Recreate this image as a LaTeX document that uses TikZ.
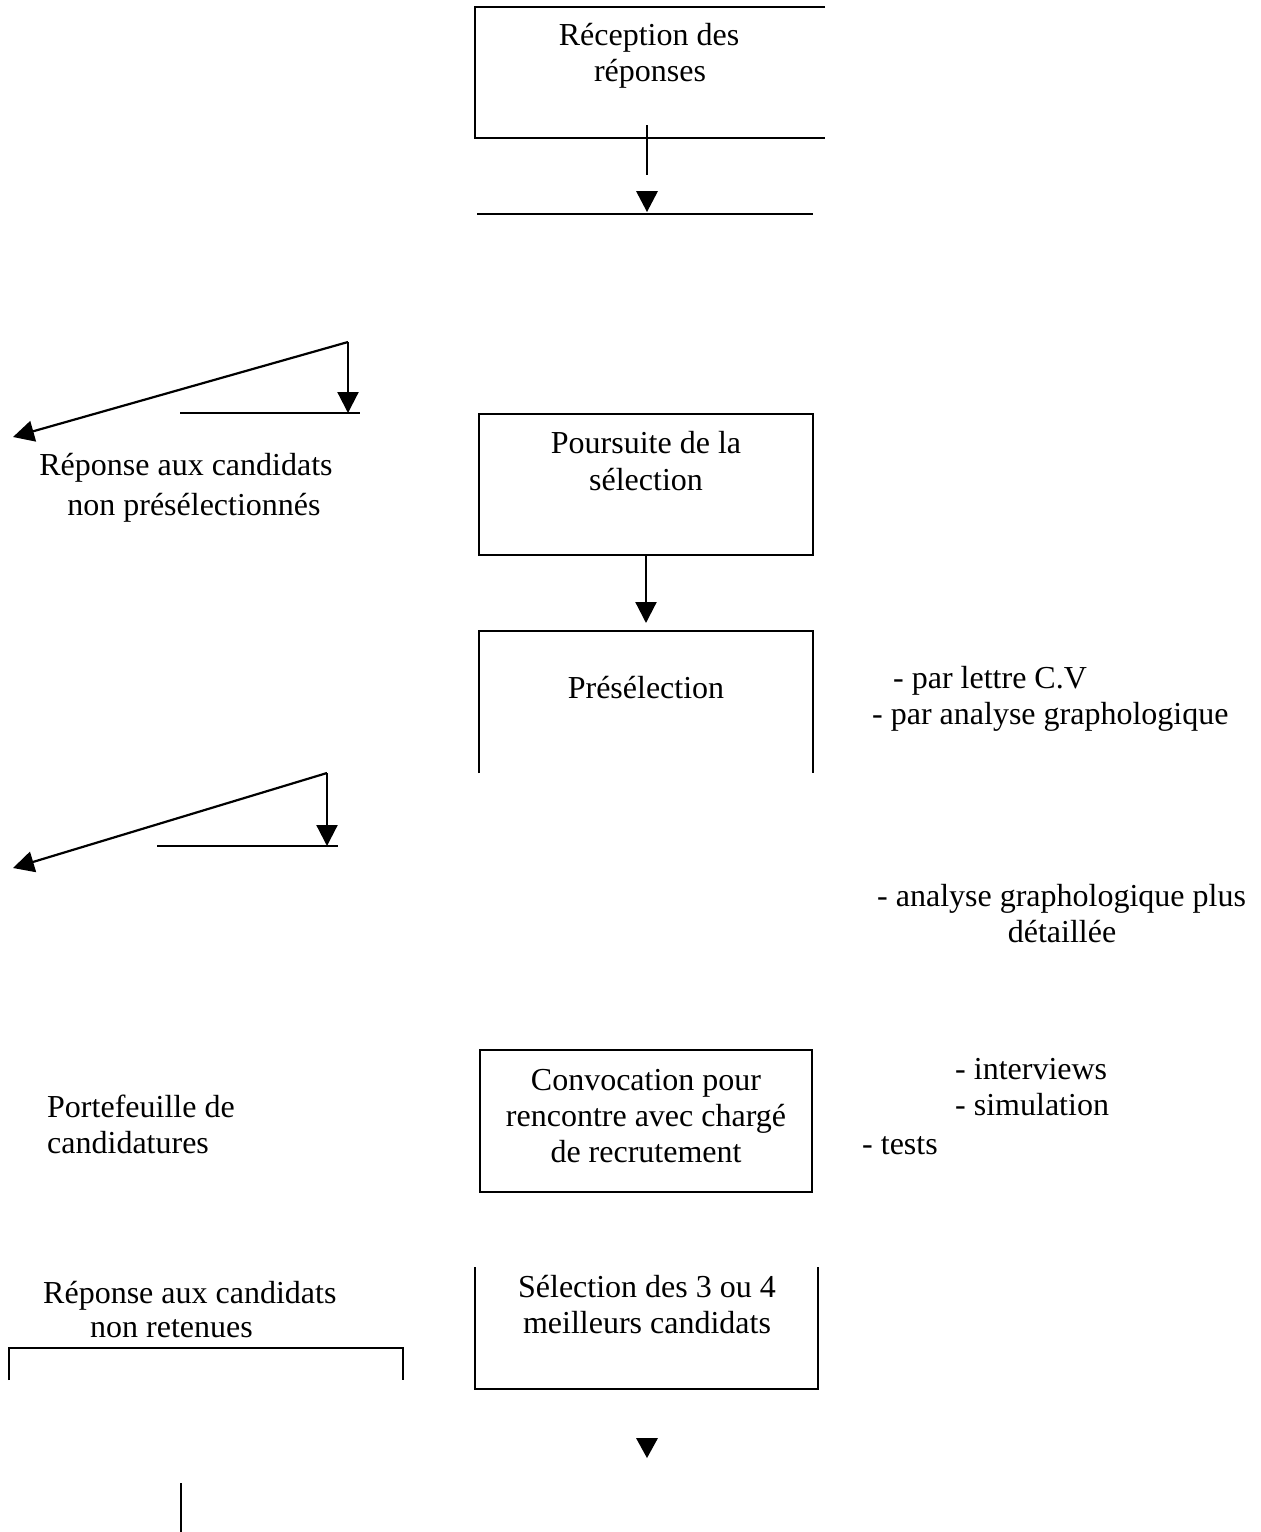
\documentclass[tikz,border=0pt]{standalone}
\usepackage{fontspec}
\setmainfont{Liberation Serif}
\usetikzlibrary{arrows.meta}
\tikzset{
  lbl/.style={anchor=base, inner sep=0pt, font=\fontsize{32}{36.5}\selectfont},
  lblw/.style={lbl, anchor=base west},
  stroke/.style={line width=2.2pt, line cap=butt},
  tipped/.style={stroke, -{Triangle[width=21pt,length=21pt]}},
  head/.style={fill=black, draw=none}
}
\begin{document}
\begin{tikzpicture}[x=1pt,y=-1pt]
\useasboundingbox (0,0) rectangle (1261,1532);

% ---- Réception des réponses
\draw[stroke] (825,7) -- (475,7) -- (475,138) -- (825,138);
\node[lbl] (rec1) at (649,45) {Réception des};
\node[lbl] (rec2) at (650,81) {réponses};
\coordinate (c1a) at (647,125);
\coordinate (c1b) at (647,175);
\draw[stroke] (c1a) -- (c1b);
\fill[head] (636,191) -- (658,191) -- (647,212) -- cycle;
\coordinate (h1a) at (477,214);
\coordinate (h1b) at (813,214);
\draw[stroke] (h1a) -- (h1b);

% ---- first left arrows
\coordinate (a1top) at (348,342);
\coordinate (a1bot) at (348,413);
\coordinate (a1tip) at (13,437);
\coordinate (a1l) at (180,413);
\coordinate (a1r) at (360,413);
\draw[tipped] (a1top) -- (a1tip);
\draw[tipped] (a1top) -- (a1bot);
\draw[stroke] (a1l) -- (a1r);
\node[lbl] (rep1a) at (186,475) {Réponse aux candidats};
\node[lbl] (rep1b) at (194,515) {non présélectionnés};

% ---- Poursuite de la sélection
\draw[stroke] (479,414) rectangle (813,555);
\node[lbl] (pou1) at (646,453) {Poursuite de la};
\node[lbl] (pou2) at (646,490) {sélection};
\coordinate (p1) at (646,555);
\coordinate (p2) at (646,623);
\draw[tipped] (p1) -- (p2);

% ---- Présélection
\draw[stroke] (479,773) -- (479,631) -- (813,631) -- (813,773);
\node[lbl] (pre) at (646,698) {Présélection};
\node[lblw] (pl1) at (893,688) {- par lettre C.V};
\node[lblw] (pl2) at (872,724) {- par analyse graphologique};

% ---- second left arrows
\coordinate (a2top) at (327,773);
\coordinate (a2bot) at (327,846);
\coordinate (a2tip) at (13,868);
\coordinate (a2l) at (157,846);
\coordinate (a2r) at (338,846);
\draw[tipped] (a2top) -- (a2tip);
\draw[tipped] (a2top) -- (a2bot);
\draw[stroke] (a2l) -- (a2r);

\node[lblw] (ag1) at (877,906) {- analyse graphologique plus};
\node[lbl] (ag2) at (1062,942) {détaillée};

% ---- Convocation
\draw[stroke] (480,1050) rectangle (812,1192);
\node[lbl] (cv1) at (646,1090) {Convocation pour};
\node[lbl] (cv2) at (646,1126) {rencontre avec chargé};
\node[lbl] (cv3) at (646,1162) {de recrutement};
\node[lblw] (t1) at (955,1079) {- interviews};
\node[lblw] (t2) at (955,1115) {- simulation};
\node[lblw] (t3) at (862,1154) {- tests};
\node[lblw] (pf1) at (47,1117) {Portefeuille de};
\node[lblw] (pf2) at (47,1153) {candidatures};

% ---- Sélection des 3 ou 4 meilleurs candidats
\draw[stroke] (475,1267) -- (475,1389) -- (818,1389) -- (818,1267);
\node[lbl] (se1) at (647,1297) {Sélection des 3 ou 4};
\node[lbl] (se2) at (647,1333) {meilleurs candidats};
\fill[head] (636,1438) -- (658,1438) -- (647,1458) -- cycle;

% ---- Réponse aux candidats non retenues
\node[lblw] (rep2a) at (43,1303) {Réponse aux candidats};
\node[lblw] (rep2b) at (90,1337) {non retenues};
\draw[stroke] (9,1380) -- (9,1348) -- (403,1348) -- (403,1380);
\coordinate (b1) at (181,1483);
\coordinate (b2) at (181,1532);
\draw[stroke] (b1) -- (b2);
\end{tikzpicture}
\end{document}
